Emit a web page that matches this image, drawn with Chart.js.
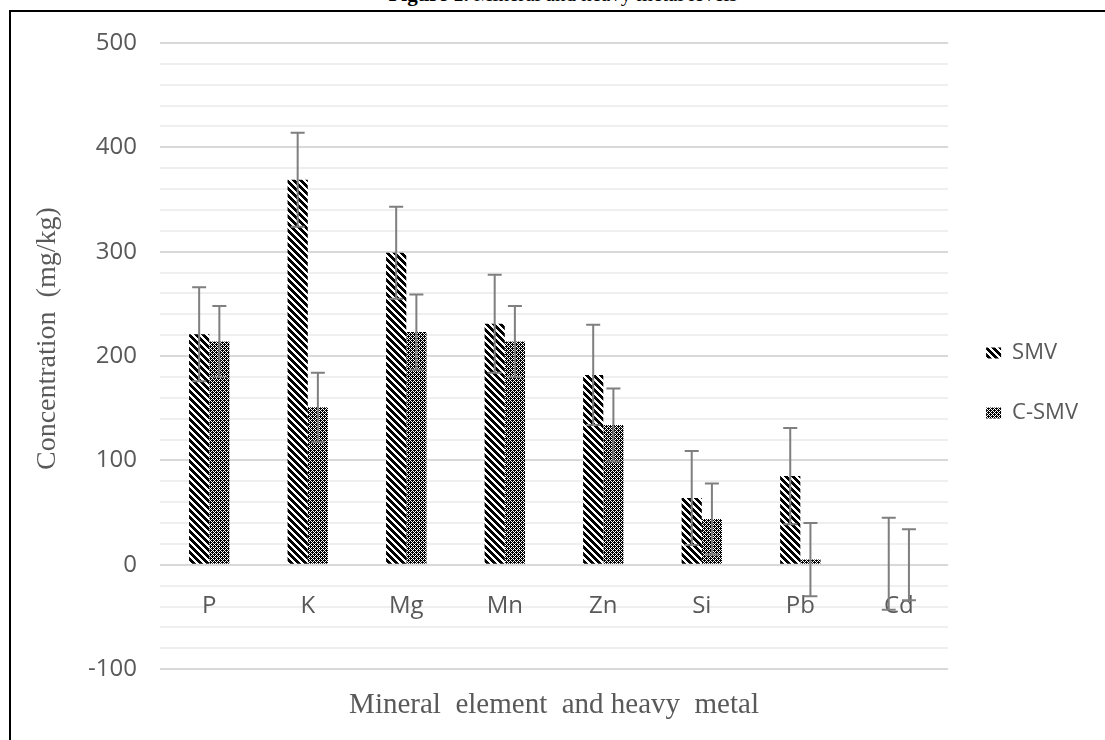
<!DOCTYPE html>
<html>
<head>
<meta charset="utf-8">
<script src="https://cdn.jsdelivr.net/npm/chart.js@4.4.1/dist/chart.umd.min.js"></script>
<style>
  html, body { margin: 0; padding: 0; background: #fff; overflow: hidden; }
  #wrap { position: relative; width: 1105px; height: 740px; overflow: hidden; }
  #cap { position: absolute; left: 0; top: -16px; width: 1126px; text-align: center;
         font: 21px/21px "Liberation Serif", "Times New Roman", serif; color: #000; white-space: nowrap; }
  #frame { position: absolute; left: 9px; top: 10px; width: 1200px; height: 800px;
           border-top: 2px solid #000; border-left: 2px solid #000; }
  #chart { position: absolute; left: 0; top: 0; }
</style>
</head>
<body>
<div id="wrap">
  <div id="cap"><b>Figure 1.</b> Mineral and heavy metal levels</div>
  <div id="frame"></div>
  <canvas id="chart" width="1105" height="740"></canvas>
</div>
<script>
// data (mg/kg)
const elements = ['P', 'K', 'Mg', 'Mn', 'Zn', 'Si', 'Pb', 'Cd'];
const smv = [221, 369, 299, 231, 182, 64, 85, 1];
const smvErr = [45, 45, 44, 47, 48, 45, 46, 44];
const csmv = [214, 151, 223, 214, 134, 44, 5, 0];
const csmvErr = [34, 33, 36, 34, 35, 34, 35, 34];
const yTicks = [-100, 0, 100, 200, 300, 400, 500];

const grey = '#595959';
const sansFont = '"Open Sans", "Noto Sans", sans-serif';
const serifFont = '"Liberation Serif", "Times New Roman", serif';

// black & white fill patterns like the Excel ones
function makePattern(size, ink) {
    const c = document.createElement('canvas');
    c.width = c.height = size;
    const g = c.getContext('2d');
    const img = g.createImageData(size, size);
    for (let y = 0; y < size; y++) {
        for (let x = 0; x < size; x++) {
            const i = (y * size + x) * 4;
            const v = ink(x, y) ? 0 : 255;
            img.data[i] = img.data[i + 1] = img.data[i + 2] = v;
            img.data[i + 3] = 255;
        }
    }
    g.putImageData(img, 0, 0);
    return g.createPattern(c, 'repeat');
}
const stripes = makePattern(7, (x, y) => ((x - y) % 7 + 7) % 7 < 4);
const dots = makePattern(4, (x, y) =>
    !((x % 2 === 1 && y % 2 === 1) || (x === 0 && y === 2) || (x === 2 && y === 0)));

const errorSets = [smvErr, csmvErr];

// error bars drawn through the y scale
const errorBars = {
    id: 'errorBars',
    afterDatasetsDraw(chart) {
        const { ctx } = chart;
        const yScale = chart.scales.y;
        ctx.save();
        ctx.strokeStyle = '#7f7f7f';
        ctx.lineWidth = 2;
        chart.data.datasets.forEach((ds, i) => {
            const meta = chart.getDatasetMeta(i);
            meta.data.forEach((bar, j) => {
                const v = ds.data[j];
                const e = errorSets[i][j];
                const top = yScale.getPixelForValue(v + e);
                const bot = yScale.getPixelForValue(v - e);
                ctx.beginPath();
                ctx.moveTo(bar.x, top);
                ctx.lineTo(bar.x, bot);
                ctx.moveTo(bar.x - 7, top);
                ctx.lineTo(bar.x + 7, top);
                ctx.moveTo(bar.x - 7, bot);
                ctx.lineTo(bar.x + 7, bot);
                ctx.stroke();
            });
        });
        ctx.restore();
    }
};

new Chart(document.getElementById('chart'), {
    type: 'bar',
    data: {
        labels: elements,
        datasets: [
            { label: 'SMV', data: smv, backgroundColor: stripes, borderWidth: 0 },
            { label: 'C-SMV', data: csmv, backgroundColor: dots, borderWidth: 0 }
        ]
    },
    options: {
        responsive: false,
        animation: false,
        devicePixelRatio: 1,
        categoryPercentage: 0.41,
        barPercentage: 1.0,
        layout: { padding: { top: 43, left: 10, right: 17, bottom: 0 } },
        scales: {
            x: {
                type: 'category',
                position: { y: 0 },
                grid: { display: false, drawTicks: false },
                border: { display: false },
                ticks: { color: grey, font: { family: sansFont, size: 24 }, padding: 27, maxRotation: 0 },
                afterFit(scale) { scale.height = 0; }
            },
            y: {
                min: yTicks[0],
                max: yTicks[yTicks.length - 1],
                border: { display: false },
                grid: {
                    drawTicks: false,
                    lineWidth: 2,
                    color: (c) => (c.tick && yTicks.includes(c.tick.value)) ? '#d9d9d9' : '#efefef'
                },
                ticks: {
                    stepSize: 20,
                    autoSkip: false,
                    padding: 23,
                    color: grey,
                    font: { family: sansFont, size: 24 },
                    callback: (v) => yTicks.includes(v) ? v : ''
                },
                title: {
                    display: true,
                    text: '     Concentration  (mg/kg)',
                    color: grey,
                    font: { family: serifFont, size: 28, weight: 'normal' },
                    padding: { top: 21, bottom: 0 }
                },
                afterFit(scale) { scale.width = 150; }
            }
        },
        plugins: {
            legend: {
                position: 'right',
                fullSize: false,
                title: { display: true, text: ' ', font: { size: 10 }, padding: { top: 42, bottom: 0 } },
                labels: {
                    color: grey,
                    font: { family: sansFont, size: 22 },
                    boxWidth: 15,
                    boxHeight: 11,
                    padding: 38
                }
            },
            title: {
                display: true,
                position: 'bottom',
                fullSize: false,
                text: 'Mineral  element  and heavy  metal',
                color: grey,
                font: { family: serifFont, size: 29, weight: 'normal' },
                padding: { top: 19, bottom: 17 }
            },
            tooltip: { enabled: false }
        }
    },
    plugins: [errorBars]
});
</script>
</body>
</html>
